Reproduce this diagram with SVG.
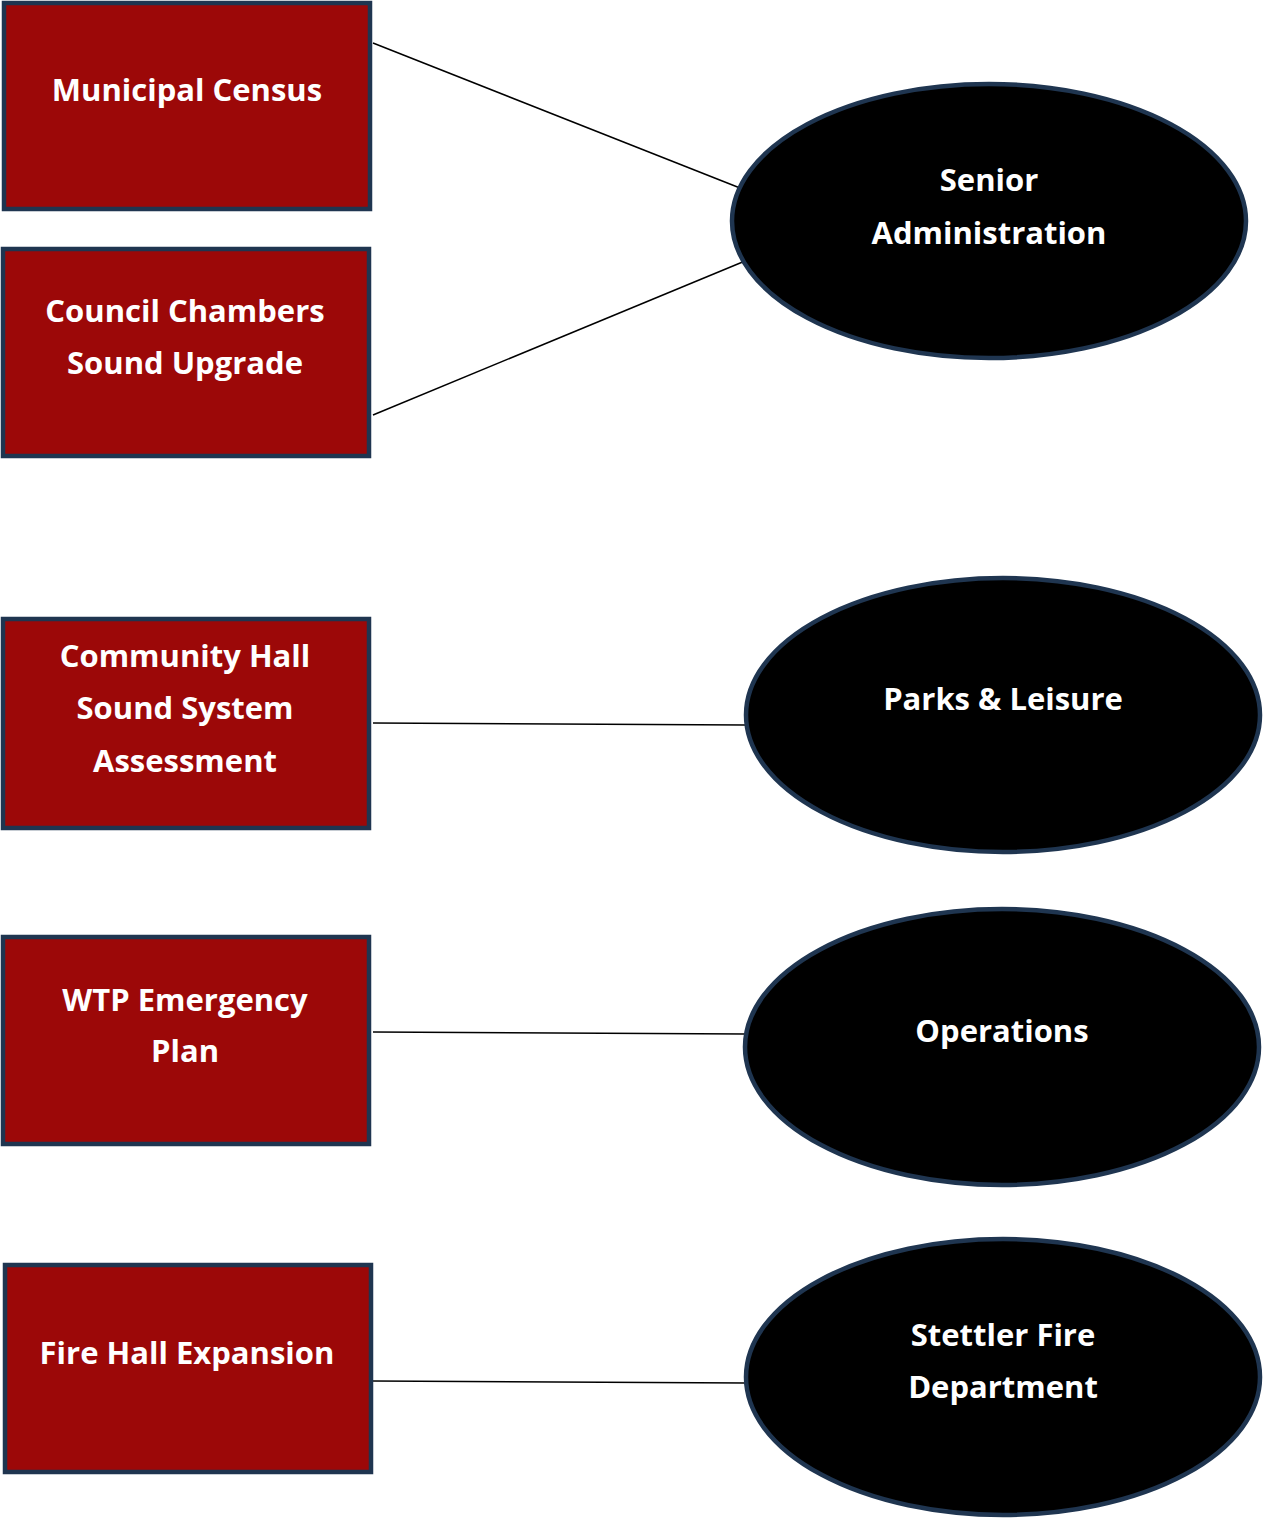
<svg xmlns="http://www.w3.org/2000/svg" width="1263" height="1518" viewBox="0 0 1263 1518">
<style>
.box{fill:#9c0808;stroke:#1f3550;stroke-width:4.5}
.ell{fill:#000;stroke:#1f3550;stroke-width:4.5}
.lbl{fill:#fff;font-family:"Open Sans","Noto Sans",sans-serif;font-weight:bold;font-size:31px;text-anchor:middle}
.con{stroke:#000;stroke-width:1.5;fill:none}
</style>
<rect width="1263" height="1518" fill="#fff"/>
<g id="connectors">
<line class="con" x1="373" y1="43" x2="740" y2="188"/>
<line class="con" x1="373" y1="415" x2="745" y2="261"/>
<line class="con" x1="373" y1="723" x2="745" y2="725"/>
<line class="con" x1="373" y1="1032" x2="745" y2="1034"/>
<line class="con" x1="373" y1="1381" x2="745" y2="1383"/>
</g>
<g id="municipal-census">
<rect class="box" x="4" y="3" width="366" height="206"/>
<text class="lbl" x="187" y="101">Municipal Census</text>
</g>
<g id="council-chambers">
<rect class="box" x="3" y="249" width="366" height="207"/>
<text class="lbl" x="185" y="322">Council Chambers</text>
<text class="lbl" x="185" y="374">Sound Upgrade</text>
</g>
<g id="community-hall">
<rect class="box" x="3" y="619" width="366" height="209"/>
<text class="lbl" x="185" y="667">Community Hall</text>
<text class="lbl" x="185" y="719">Sound System</text>
<text class="lbl" x="185" y="772">Assessment</text>
</g>
<g id="wtp-emergency">
<rect class="box" x="3" y="937" width="366" height="207"/>
<text class="lbl" x="185" y="1011">WTP Emergency</text>
<text class="lbl" x="185" y="1062">Plan</text>
</g>
<g id="fire-hall">
<rect class="box" x="5" y="1265" width="366" height="207"/>
<text class="lbl" x="187" y="1364">Fire Hall Expansion</text>
</g>
<g id="senior-administration">
<ellipse class="ell" cx="989" cy="221" rx="257" ry="137"/>
<text class="lbl" x="989" y="191">Senior</text>
<text class="lbl" x="989" y="244">Administration</text>
</g>
<g id="parks-leisure">
<ellipse class="ell" cx="1003" cy="715" rx="257" ry="137"/>
<text class="lbl" x="1003" y="710">Parks &amp; Leisure</text>
</g>
<g id="operations">
<ellipse class="ell" cx="1002" cy="1047" rx="257" ry="138"/>
<text class="lbl" x="1002" y="1042">Operations</text>
</g>
<g id="stettler-fire">
<ellipse class="ell" cx="1003" cy="1377" rx="257" ry="138"/>
<text class="lbl" x="1003" y="1346">Stettler Fire</text>
<text class="lbl" x="1003" y="1398">Department</text>
</g>
</svg>
